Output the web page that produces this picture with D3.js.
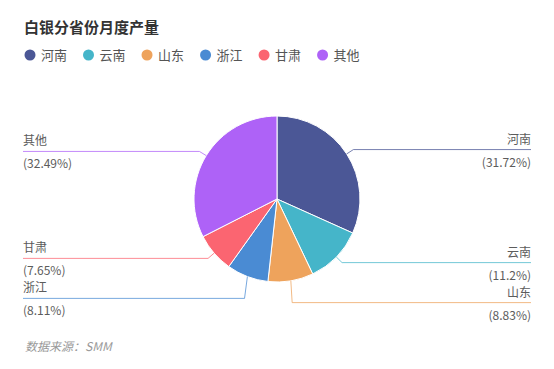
<!DOCTYPE html>
<html><head><meta charset="utf-8">
<script src="https://cdn.jsdelivr.net/npm/d3@7"></script>
<style>
html,body{margin:0;padding:0;background:#fff;}
svg{display:block;font-family:"Noto Sans CJK SC","Noto Sans",sans-serif;}
</style></head>
<body><svg id="c" width="554" height="369"></svg>
<script>
const title = "白银分省份月度产量";
const source = "数据来源：SMM";
const categories = ["河南","云南","山东","浙江","甘肃","其他"];
const values = [31.72, 11.2, 8.83, 8.11, 7.65, 32.49];
const percentLabels = ["(31.72%)","(11.2%)","(8.83%)","(8.11%)","(7.65%)","(32.49%)"];
const colors = ["#4b5796","#45b5c9","#eea35c","#4a8bd3","#fb6571","#ae62f7"];

const W = 554, H = 369;
const svg = d3.select("#c");
const cx = 277, cy = 199, r = 83;
const leftEdge = 23, rightEdge = 531;

svg.append("text").attr("x",24).attr("y",33).attr("font-size",15).attr("font-weight","bold")
  .attr("fill","#333").text(title);

// legend
const color = d3.scaleOrdinal().domain(categories).range(colors);
let lx = 24;
const lg = svg.append("g");
categories.forEach(c=>{
  const g = lg.append("g");
  g.append("circle").attr("cx",lx+6).attr("cy",55).attr("r",5.5).attr("fill",color(c));
  const t = g.append("text").attr("x",lx+17).attr("y",59.5).attr("font-size",13).attr("fill","#555").text(c);
  const w = t.node().getComputedTextLength();
  lx += 17 + w + 15.5;
});

const pie = d3.pie().sort(null).value(d=>d.v);
const data = pie(categories.map((c,i)=>({c,v:values[i],p:percentLabels[i]})));
const arc = d3.arc().innerRadius(0).outerRadius(r);
const g = svg.append("g").attr("transform",`translate(${cx},${cy})`);
g.selectAll("path").data(data).join("path").attr("d",arc)
  .attr("fill",d=>color(d.data.c)).attr("stroke","#fff").attr("stroke-width",1);

// label layout
const len1 = 8, gap = 40;
const labels = data.map(d=>{
  const a = (d.startAngle+d.endAngle)/2;
  const sx = cx + r*Math.sin(a), sy = cy - r*Math.cos(a);
  const kx = cx + (r+len1)*Math.sin(a), ky = cy - (r+len1)*Math.cos(a);
  return {d, a, sx, sy, kx, ky, y: ky, right: Math.sin(a) >= 0};
});
[true,false].forEach(side=>{
  const s = labels.filter(l=>l.right===side).sort((a,b)=>a.y-b.y);
  for(let i=1;i<s.length;i++){ if(s[i].y - s[i-1].y < gap) s[i].y = s[i-1].y + gap; }
});
labels.forEach(l=>{
  const col = color(l.d.data.c);
  const ex = l.right ? rightEdge : leftEdge;
  svg.append("polyline").attr("points",`${l.sx},${l.sy} ${l.kx},${l.y} ${ex},${l.y}`)
    .attr("fill","none").attr("stroke",col).attr("stroke-opacity",0.75).attr("stroke-width",1);
  const anchor = l.right ? "end" : "start";
  svg.append("text").attr("x",ex).attr("y",l.y-6).attr("text-anchor",anchor)
    .attr("font-size",12).attr("fill","#5c5c5c").text(l.d.data.c);
  svg.append("text").attr("x",ex).attr("y",l.y+17).attr("text-anchor",anchor)
    .attr("font-size",12).attr("fill","#5c5c5c").text(l.d.data.p);
});

svg.append("text").attr("x",25).attr("y",351).attr("font-size",12).attr("font-style","italic")
  .attr("fill","#999").text(source);
</script></body></html>
